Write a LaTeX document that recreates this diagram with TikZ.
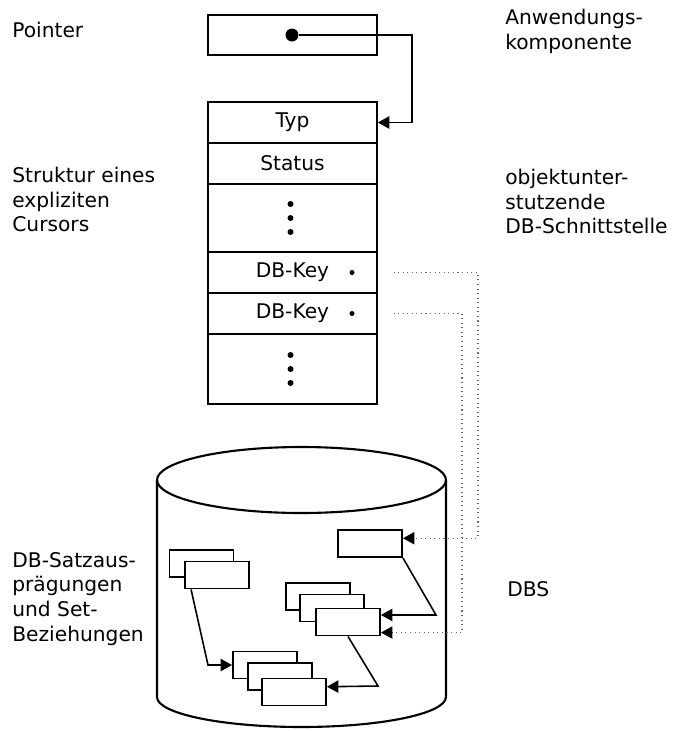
\documentclass[tikz,border=0pt]{standalone}
\usepackage{fontspec}
\setmainfont{DejaVu Sans}
\usetikzlibrary{arrows.meta,calc}
\tikzset{
  field/.style={draw,line width=1pt,minimum width=3.38cm,minimum height=.82cm,inner sep=0pt},
  rec/.style={draw,fill=white,line width=1.1pt,minimum width=1.28cm,minimum height=.54cm,
              inner sep=0pt},
  arrow/.style={-{Triangle[length=6.5pt,width=7pt]},line width=.9pt},
  link/.style={-{Triangle[length=6.5pt,width=7pt,color=black]},dotted,line width=.6pt,
               draw=black!60},
  note/.style={anchor=north west,align=left,inner sep=0pt},
  keydot/.style={circle,fill,inner sep=0pt,minimum size=.1cm},
  cyl/.style={line width=1.2pt}
}

\begin{document}
\begin{tikzpicture}[x=0.02cm,y=-0.02cm,font=\fontsize{11.5}{14}\selectfont]
  \useasboundingbox (0,0) rectangle (681,731);

  % Pointer of the application component
  \node[field,minimum height=.8cm] (ptr) at (292.5,35) {};
  \node[circle,fill,inner sep=0pt,minimum size=.26cm] (pdot) at (292,35) {};

  % Cursor structure
  \node[field] (typ) at (292.5,122.5) {Typ};
  \node[field] (status) at (292.5,163.5) {Status};
  \node[field,minimum height=1.36cm] (dots1) at (292.5,218) {};
  \node[field] (key1) at (292.5,272.5) {DB-Key\hspace{5mm}};
  \node[field] (key2) at (292.5,313.5) {DB-Key\hspace{5mm}};
  \node[field,minimum height=1.4cm] (dots2) at (292.5,369) {};
  \foreach \r in {dots1,dots2}
    \foreach \d in {-14,0,14}
      \fill ($(\r.center)+(-2,\d)$) circle (.06cm);
  \node[keydot] (k1dot) at (352,272.5) {};
  \node[keydot] (k2dot) at (352,313.5) {};

  \coordinate (pbend) at (412,35);
  \draw[arrow] (pdot) -- (pbend) |- (typ.east);

  % Database cylinder
  \draw[cyl] (157,480) -- (157,697)
    arc[start angle=180,end angle=360,x radius=2.89cm,y radius=.6cm] -- (446,480);
  \draw[cyl] (301.5,480) ellipse [x radius=2.89cm,y radius=.66cm];

  % Record occurrences
  \node[rec] (rt) at (370,543.5) {};
  \node[rec] (la) at (201.5,563.5) {};
  \node[rec] (lb) at (217,575) {};
  \node[rec] (ma) at (318,596.5) {};
  \node[rec] (mb) at (332,608) {};
  \node[rec] (mc) at (348,622) {};
  \node[rec] (ba) at (265,665) {};
  \node[rec] (bb) at (280,676.5) {};
  \node[rec] (bc) at (294,692) {};

  % Set relations
  \coordinate (ra) at (436,615);
  \coordinate (rb) at (378,686);
  \coordinate (rc) at (208,665);
  \draw[arrow] (rt.south east) -- (ra) -- ([yshift=4pt]mc.east);
  \draw[arrow] (mc.south) -- (rb) -- ([yshift=3pt]bc.east);
  \draw[arrow] ([xshift=4pt]lb.south west) -- (rc) -- (ba.west);

  % DB-Keys into the database
  \coordinate (k1bend) at (478,272.5);
  \coordinate (k2bend) at (462,313.5);
  \draw[link,shorten <=22pt] (k1dot) -- (k1bend) |- ([yshift=3pt]rt.east);
  \draw[link,shorten <=22pt] (k2dot) -- (k2bend) |- ([yshift=-6pt]mc.east);

  % Labels
  \node[note] (lptr) at (12,22) {Pointer};
  \node[note] (lapp) at (505,9) {Anwendungs-\\komponente};
  \node[note] (lcur) at (12,167) {Struktur eines\\expliziten\\Cursors};
  \node[note] (lapi) at (505,169) {objektunter-\\stutzende\\DB-Schnittstelle};
  \node[note] (lrec) at (12,552) {DB-Satzaus-\\prägungen\\und Set-\\Beziehungen};
  \node[note] (ldbs) at (507,581) {DBS};
\end{tikzpicture}
\end{document}
